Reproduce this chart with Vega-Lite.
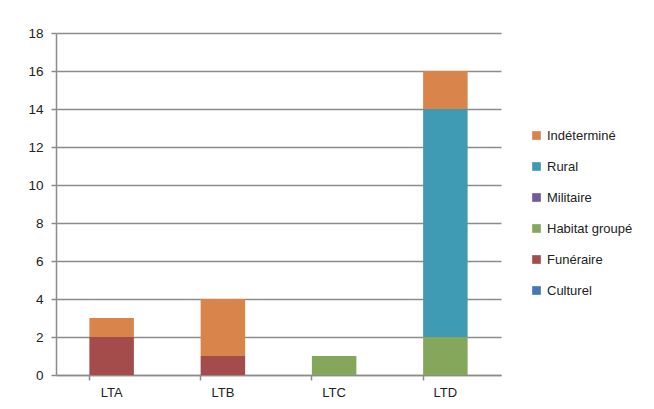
{
  "$schema": "https://vega.github.io/schema/vega-lite/v6.json",
  "width": 445,
  "height": 342,
  "autosize": {"type": "none"},
  "padding": {"left": 56, "top": 33, "right": 153, "bottom": 34},
  "background": "white",
  "config": {
    "view": {"stroke": null},
    "font": "Liberation Sans, Arial, sans-serif"
  },
  "data": {
    "values": [
      {"site": "LTA", "type": "Culturel", "n": 0},
      {"site": "LTA", "type": "Funéraire", "n": 2},
      {"site": "LTA", "type": "Habitat groupé", "n": 0},
      {"site": "LTA", "type": "Militaire", "n": 0},
      {"site": "LTA", "type": "Rural", "n": 0},
      {"site": "LTA", "type": "Indéterminé", "n": 1},
      {"site": "LTB", "type": "Culturel", "n": 0},
      {"site": "LTB", "type": "Funéraire", "n": 1},
      {"site": "LTB", "type": "Habitat groupé", "n": 0},
      {"site": "LTB", "type": "Militaire", "n": 0},
      {"site": "LTB", "type": "Rural", "n": 0},
      {"site": "LTB", "type": "Indéterminé", "n": 3},
      {"site": "LTC", "type": "Culturel", "n": 0},
      {"site": "LTC", "type": "Funéraire", "n": 0},
      {"site": "LTC", "type": "Habitat groupé", "n": 1},
      {"site": "LTC", "type": "Militaire", "n": 0},
      {"site": "LTC", "type": "Rural", "n": 0},
      {"site": "LTC", "type": "Indéterminé", "n": 0},
      {"site": "LTD", "type": "Culturel", "n": 0},
      {"site": "LTD", "type": "Funéraire", "n": 0},
      {"site": "LTD", "type": "Habitat groupé", "n": 2},
      {"site": "LTD", "type": "Militaire", "n": 0},
      {"site": "LTD", "type": "Rural", "n": 12},
      {"site": "LTD", "type": "Indéterminé", "n": 2}
    ]
  },
  "transform": [
    {"calculate": "indexof(['Culturel', 'Funéraire', 'Habitat groupé', 'Militaire', 'Rural', 'Indéterminé'], datum.type)", "as": "rang"}
  ],
  "mark": {"type": "bar"},
  "encoding": {
    "x": {
      "field": "site",
      "type": "nominal",
      "title": null,
      "scale": {"paddingInner": 0.6, "paddingOuter": 0.3},
      "axis": {
        "labelAngle": 0,
        "labelFontSize": 13,
        "labelColor": "#222",
        "labelPadding": 6,
        "domainColor": "#8c8c8c",
        "domainWidth": 1.5,
        "tickColor": "#8c8c8c",
        "tickWidth": 1.5,
        "tickSize": 5,
        "bandPosition": 0,
        "grid": false
      }
    },
    "y": {
      "field": "n",
      "type": "quantitative",
      "stack": "zero",
      "title": null,
      "scale": {"domain": [0, 18]},
      "axis": {
        "values": [0, 2, 4, 6, 8, 10, 12, 14, 16, 18],
        "labelFontSize": 13.5,
        "labelColor": "#222",
        "labelPadding": 8,
        "domainColor": "#8c8c8c",
        "domainWidth": 1.5,
        "tickColor": "#8c8c8c",
        "tickWidth": 1.5,
        "tickSize": 5,
        "gridColor": "#8c8c8c",
        "gridWidth": 1.5
      }
    },
    "order": {"field": "rang", "type": "quantitative", "sort": "ascending"},
    "color": {
      "field": "type",
      "type": "nominal",
      "title": null,
      "scale": {
        "domain": ["Indéterminé", "Rural", "Militaire", "Habitat groupé", "Funéraire", "Culturel"],
        "range": ["#D8844A", "#3F9AB3", "#705AA0", "#85A75C", "#A44B4B", "#4577B2"]
      },
      "legend": {
        "orient": "none",
        "legendX": 474,
        "legendY": 96,
        "symbolType": "square",
        "symbolSize": 75,
        "symbolStrokeWidth": 0,
        "labelFontSize": 13,
        "labelColor": "#222",
        "labelOffset": 4,
        "rowPadding": 17
      }
    }
  }
}
